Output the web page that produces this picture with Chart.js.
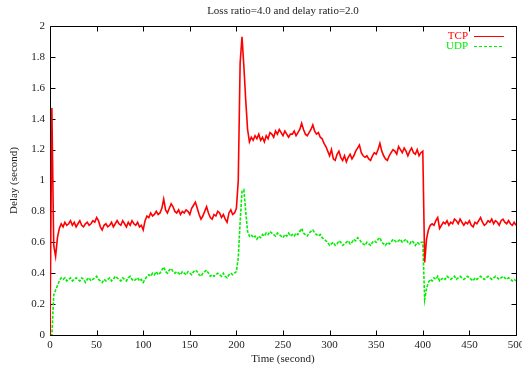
<!DOCTYPE html>
<html>
<head>
<meta charset="utf-8">
<style>
  html, body { margin: 0; padding: 0; background: #fff; }
  #wrap { width: 522px; height: 366px; position: relative; }
</style>
<script src="https://cdn.jsdelivr.net/npm/chart.js@4/dist/chart.umd.min.js"></script>
</head>
<body>
<div id="wrap"><canvas id="delay-chart"></canvas></div>
<script>
const TITLE = "Loss ratio=4.0 and delay ratio=2.0";
const X_TITLE = "Time (second)";
const Y_TITLE = "Delay (second)";
const SERIES_NAMES = ["TCP", "UDP"];
const SAMPLE_STEP = 2; // seconds between samples, 0..500

// TCP delay, one value every 2 s (rows of 20 s)
const tcpDelay = [
  0, 1.47, 0.58, 0.51, 0.63, 0.69, 0.72, 0.70, 0.73, 0.71,
  0.72, 0.74, 0.71, 0.73, 0.70, 0.72, 0.74, 0.71, 0.70, 0.72,
  0.73, 0.71, 0.72, 0.74, 0.73, 0.76, 0.74, 0.70, 0.68, 0.71,
  0.72, 0.70, 0.71, 0.73, 0.70, 0.72, 0.74, 0.72, 0.71, 0.74,
  0.72, 0.70, 0.73, 0.71, 0.74, 0.72, 0.71, 0.73, 0.70, 0.71,
  0.68, 0.74, 0.77, 0.76, 0.79, 0.77, 0.78, 0.80, 0.78, 0.79,
  0.82, 0.88, 0.81, 0.79, 0.82, 0.85, 0.83, 0.80, 0.79, 0.81,
  0.78, 0.80, 0.79, 0.81, 0.80, 0.78, 0.82, 0.84, 0.86, 0.82,
  0.78, 0.75, 0.77, 0.80, 0.83, 0.79, 0.76, 0.75, 0.78, 0.77,
  0.80, 0.79, 0.76, 0.78, 0.75, 0.73, 0.79, 0.81, 0.78, 0.79,
  0.82, 1.00, 1.76, 1.93, 1.74, 1.52, 1.33, 1.25, 1.28, 1.26,
  1.29, 1.27, 1.30, 1.26, 1.28, 1.25, 1.29, 1.27, 1.31, 1.30,
  1.28, 1.32, 1.30, 1.33, 1.31, 1.29, 1.32, 1.30, 1.28, 1.30,
  1.30, 1.32, 1.29, 1.31, 1.33, 1.37, 1.33, 1.30, 1.29, 1.31,
  1.33, 1.36, 1.32, 1.30, 1.31, 1.28, 1.27, 1.24, 1.22, 1.19,
  1.16, 1.20, 1.14, 1.13, 1.17, 1.19, 1.15, 1.13, 1.16, 1.12,
  1.15, 1.17, 1.14, 1.16, 1.19, 1.21, 1.23, 1.18, 1.16, 1.15,
  1.16, 1.14, 1.13, 1.16, 1.18, 1.17, 1.20, 1.24, 1.19, 1.16,
  1.14, 1.13, 1.16, 1.18, 1.20, 1.19, 1.17, 1.22, 1.20, 1.18,
  1.21, 1.19, 1.16, 1.19, 1.21, 1.18, 1.17, 1.20, 1.16, 1.18,
  1.19, 0.47, 0.62, 0.68, 0.71, 0.72, 0.71, 0.74, 0.76, 0.69,
  0.71, 0.73, 0.72, 0.74, 0.71, 0.73, 0.72, 0.75, 0.74, 0.72,
  0.75, 0.73, 0.71, 0.73, 0.72, 0.74, 0.71, 0.70, 0.73, 0.72,
  0.74, 0.76, 0.73, 0.71, 0.72, 0.74, 0.73, 0.75, 0.72, 0.74,
  0.73, 0.71, 0.74, 0.75, 0.73, 0.72, 0.74, 0.72, 0.71, 0.73,
  0.71,
];

// UDP delay, same sampling
const udpDelay = [
  0, 0, 0.26, 0.29, 0.32, 0.35, 0.37, 0.36, 0.37, 0.35,
  0.36, 0.37, 0.35, 0.36, 0.37, 0.36, 0.35, 0.37, 0.36, 0.34,
  0.36, 0.37, 0.35, 0.36, 0.37, 0.38, 0.36, 0.35, 0.34, 0.36,
  0.35, 0.36, 0.37, 0.35, 0.36, 0.38, 0.37, 0.36, 0.35, 0.37,
  0.36, 0.35, 0.37, 0.38, 0.36, 0.35, 0.36, 0.37, 0.35, 0.36,
  0.34, 0.36, 0.38, 0.39, 0.38, 0.40, 0.39, 0.41, 0.39, 0.40,
  0.42, 0.44, 0.41, 0.40, 0.42, 0.43, 0.41, 0.40, 0.41, 0.40,
  0.39, 0.41, 0.40, 0.39, 0.41, 0.40, 0.39, 0.41, 0.42, 0.41,
  0.39, 0.38, 0.40, 0.41, 0.42, 0.40, 0.38, 0.39, 0.38, 0.39,
  0.40, 0.39, 0.38, 0.40, 0.38, 0.37, 0.39, 0.40, 0.39, 0.40,
  0.41, 0.50, 0.73, 0.93, 0.94, 0.80, 0.67, 0.64, 0.65, 0.63,
  0.64, 0.62, 0.64, 0.63, 0.65, 0.64, 0.66, 0.65, 0.67, 0.66,
  0.65, 0.64, 0.66, 0.65, 0.64, 0.63, 0.65, 0.64, 0.66, 0.64,
  0.65, 0.64, 0.66, 0.65, 0.67, 0.69, 0.66, 0.65, 0.64, 0.66,
  0.67, 0.68, 0.66, 0.65, 0.64, 0.65, 0.63, 0.62, 0.61, 0.60,
  0.58, 0.59, 0.60, 0.58, 0.59, 0.61, 0.60, 0.58, 0.59, 0.60,
  0.61, 0.59, 0.60, 0.62, 0.61, 0.63, 0.62, 0.60, 0.59, 0.58,
  0.60, 0.59, 0.58, 0.60, 0.61, 0.60, 0.62, 0.63, 0.60, 0.59,
  0.58, 0.60, 0.59, 0.60, 0.62, 0.61, 0.60, 0.61, 0.62, 0.60,
  0.61, 0.62, 0.60, 0.59, 0.61, 0.60, 0.58, 0.60, 0.59, 0.60,
  0.60, 0.23, 0.30, 0.34, 0.36, 0.35, 0.37, 0.36, 0.38, 0.35,
  0.36, 0.37, 0.36, 0.38, 0.37, 0.36, 0.37, 0.38, 0.36, 0.37,
  0.38, 0.37, 0.36, 0.37, 0.38, 0.37, 0.36, 0.35, 0.37, 0.36,
  0.37, 0.38, 0.37, 0.36, 0.37, 0.38, 0.37, 0.36, 0.37, 0.38,
  0.37, 0.36, 0.37, 0.38, 0.37, 0.36, 0.37, 0.36, 0.35, 0.36,
  0.35,
];

const X_TICKS = [0, 50, 100, 150, 200, 250, 300, 350, 400, 450, 500];
const Y_TICKS = [0, 0.2, 0.4, 0.6, 0.8, 1, 1.2, 1.4, 1.6, 1.8, 2];

const RED = "#ff0000";
const GREEN = "#00ee00";
const INK = "#222";
const SERIF = "'Liberation Serif', 'DejaVu Serif', serif";

function toPoints(values) {
  return values.map((v, i) => ({ x: i * SAMPLE_STEP, y: v }));
}

// gnuplot-like frame with inward ticks on all four sides
const frameTicks = {
  id: "frameTicks",
  beforeDatasetsDraw(chart) {
    const { ctx, chartArea: a, scales } = chart;
    const L = Math.round(a.left) + 0.5, R = Math.round(a.right) + 0.5;
    const T = Math.round(a.top) + 0.5, B = Math.round(a.bottom) + 0.5;
    ctx.save();
    ctx.strokeStyle = "#000";
    ctx.lineWidth = 1;
    ctx.beginPath();
    ctx.rect(L, T, R - L, B - T);
    X_TICKS.forEach((v) => {
      const x = Math.round(scales.x.getPixelForValue(v)) + 0.5;
      ctx.moveTo(x, B); ctx.lineTo(x, B - 5);
      ctx.moveTo(x, T); ctx.lineTo(x, T + 5);
    });
    Y_TICKS.forEach((v) => {
      const y = Math.round(scales.y.getPixelForValue(v)) + 0.5;
      ctx.moveTo(L, y); ctx.lineTo(L + 5, y);
      ctx.moveTo(R, y); ctx.lineTo(R - 5, y);
    });
    ctx.stroke();
    ctx.restore();
  },
  afterDraw(chart) {
    const { ctx, chartArea: a } = chart;
    ctx.save();
    ctx.font = "11px " + SERIF;
    ctx.fillStyle = INK;
    ctx.textAlign = "center";
    ctx.textBaseline = "middle";
    ctx.fillText(TITLE, (a.left + a.right) / 2, 11);
    ctx.fillText(X_TITLE, (a.left + a.right) / 2, 359);
    ctx.save();
    ctx.translate(14, (a.top + a.bottom) / 2);
    ctx.rotate(-Math.PI / 2);
    ctx.fillText(Y_TITLE, 0, 0);
    ctx.restore();

    // key, top right inside the frame
    const keys = [
      { name: SERIES_NAMES[0], color: RED, dash: [], y: 36 },
      { name: SERIES_NAMES[1], color: GREEN, dash: [3, 2], y: 46 },
    ];
    keys.forEach((k) => {
      ctx.fillStyle = k.color;
      ctx.textAlign = "right";
      ctx.fillText(k.name, 468, k.y);
      ctx.strokeStyle = k.color;
      ctx.lineWidth = 1;
      ctx.setLineDash(k.dash);
      ctx.beginPath();
      ctx.moveTo(474, k.y + 0.5);
      ctx.lineTo(504, k.y + 0.5);
      ctx.stroke();
    });
    ctx.restore();
  },
};

const canvas = document.getElementById("delay-chart");
new Chart(canvas, {
  type: "line",
  data: {
    datasets: [
      {
        label: SERIES_NAMES[0],
        data: toPoints(tcpDelay),
        borderColor: RED,
        borderWidth: 1.6,
        pointRadius: 0,
        tension: 0,
      },
      {
        label: SERIES_NAMES[1],
        data: toPoints(udpDelay),
        borderColor: GREEN,
        borderWidth: 1.6,
        borderDash: [3, 1.5],
        pointRadius: 0,
        tension: 0,
      },
    ],
  },
  options: {
    responsive: true,
    maintainAspectRatio: false,
    animation: false,
    events: [],
    layout: { padding: { left: 0, right: 6, top: 26, bottom: 0 } },
    plugins: {
      legend: { display: false },
      title: { display: false },
      tooltip: { enabled: false },
    },
    scales: {
      x: {
        type: "linear",
        min: 0,
        max: 500,
        afterFit: (s) => { s.height = 31; s.paddingLeft = 0; s.paddingRight = 0; },
        afterBuildTicks: (s) => { s.ticks = X_TICKS.map((v) => ({ value: v })); },
        ticks: { color: INK, padding: 4, maxRotation: 0, font: { size: 11, family: SERIF } },
        grid: { display: false, drawTicks: false },
        border: { display: false },
      },
      y: {
        min: 0,
        max: 2,
        afterFit: (s) => { s.width = 50; s.paddingTop = 0; s.paddingBottom = 0; },
        afterBuildTicks: (s) => { s.ticks = Y_TICKS.map((v) => ({ value: v })); },
        ticks: {
          color: INK,
          padding: 5,
          font: { size: 11, family: SERIF },
          callback: (v) => String(+Number(v).toFixed(1)),
        },
        grid: { display: false, drawTicks: false },
        border: { display: false },
      },
    },
  },
  plugins: [frameTicks],
});
</script>
</body>
</html>
